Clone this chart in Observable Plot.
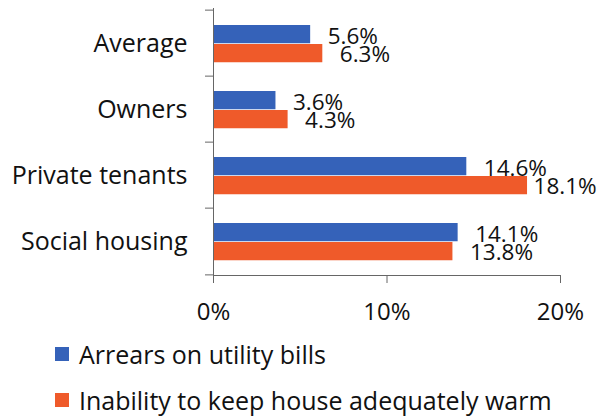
<!DOCTYPE html>
<html>
<head>
<meta charset="utf-8">
<script src="https://cdn.jsdelivr.net/npm/d3@7"></script>
<script src="https://cdn.jsdelivr.net/npm/@observablehq/plot@0.6"></script>
<style>
  html, body { margin: 0; padding: 0; background: #fff; }
  body { width: 611px; height: 416px; overflow: hidden; font-family: "Open Sans", sans-serif; color: #111; }
  #chart svg { display: block; }
  #legend { margin-left: 55px; margin-top: -5px; }
  .item { display: flex; align-items: center; height: 46px; font-size: 25px; line-height: 30px; }
  .sw { width: 14px; height: 14px; margin-right: 10px; }
</style>
</head>
<body>
<div id="chart"></div>
<div id="legend"></div>
<script>
const categories = ["Average", "Owners", "Private tenants", "Social housing"];
const arrears = [5.6, 3.6, 14.6, 14.1];
const warm = [6.3, 4.3, 18.1, 13.8];
const seriesNames = ["Arrears on utility bills", "Inability to keep house adequately warm"];
const colors = ["#3562B9", "#EF5A2A"];
const xTicks = [0, 10, 20];

const data = categories.map((c, i) => ({cat: c, arrears: arrears[i], warm: warm[i]}));

const H = 336, mTop = 8, mBottom = 61;
const step = (H - mTop - mBottom) / categories.length;

const fmt = d => d.toFixed(1) + "%";
// labels near the right edge are pulled in, as the source chart keeps them inside its area
const fits = v => v < 17.5;

const plot = Plot.plot({
  width: 611,
  height: H,
  marginLeft: 213,
  marginRight: 51,
  marginTop: mTop,
  marginBottom: mBottom,
  style: {fontFamily: "Open Sans", fontSize: "25px", color: "#111", background: "#fff", overflow: "visible"},
  x: {domain: [0, 20]},
  y: {domain: categories, padding: 0},
  marks: [
    Plot.barX(data, {x: "arrears", y: "cat", fill: colors[0], insetTop: 15, insetBottom: step - 34}),
    Plot.barX(data, {x: "warm", y: "cat", fill: colors[1], insetTop: 34, insetBottom: step - 53}),
    Plot.text(data, {x: "arrears", y: "cat", text: d => fmt(d.arrears), textAnchor: "start", dx: 17, dy: -7, fontSize: 22.5, fill: "#111"}),
    Plot.text(data, {filter: d => fits(d.warm), x: "warm", y: "cat", text: d => fmt(d.warm), textAnchor: "start", dx: 17, dy: 11, fontSize: 22.5, fill: "#111"}),
    Plot.text(data, {filter: d => !fits(d.warm), x: "warm", y: "cat", text: d => fmt(d.warm), textAnchor: "start", dx: 6, dy: 11, fontSize: 22.5, fill: "#111"}),
    Plot.frame({anchor: "bottom", stroke: "#666"}),
    Plot.ruleX([0], {stroke: "#666"}),
    Plot.axisX({ticks: xTicks, tickFormat: d => d + "%", tickSize: 8, tickPadding: 19, fontSize: 24, label: null, stroke: "#666", fill: "#111"}),
    Plot.axisY({tickSize: 0, tickPadding: 26, label: null, fill: "#111"}),
    Plot.axisY({text: null, tickSize: 8, dy: -step / 2, label: null, stroke: "#666"}),
    Plot.axisY({ticks: [categories[categories.length - 1]], text: null, tickSize: 8, dy: step / 2, label: null, stroke: "#666"})
  ]
});
document.getElementById("chart").appendChild(plot);

const legend = document.getElementById("legend");
seriesNames.forEach((n, i) => {
  const it = document.createElement("div");
  it.className = "item";
  const sw = document.createElement("div");
  sw.className = "sw";
  sw.style.background = colors[i];
  const t = document.createElement("span");
  t.textContent = n;
  it.appendChild(sw);
  it.appendChild(t);
  legend.appendChild(it);
});
</script>
</body>
</html>
